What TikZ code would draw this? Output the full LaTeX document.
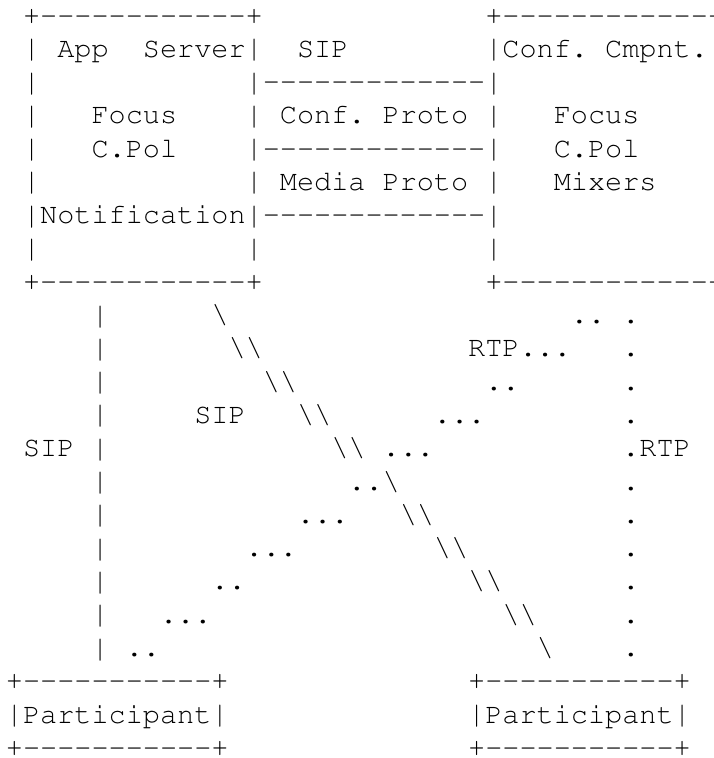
\documentclass[tikz,border=0pt]{standalone}
\usepackage[T1,TU]{fontenc}
\usepackage{fontspec}
\usepackage{graphicx}
\newcommand{\asciifont}{\fontencoding{T1}\fontfamily{pcr}\fontseries{m}\fontshape{n}}
\newcommand{\dsh}[1]{\count255=#1\relax\loop\hbox{-}\advance\count255 -1\relax\ifnum\count255>0 \repeat}
\newcommand{\bs}{\hbox{\textbackslash}}
\newcommand{\vb}{\hbox{\raisebox{-6.1pt}{\resizebox*{0.6em}{22.5pt}{\raisebox{\depth}{|}}}}}
\tikzset{asc/.style={inner sep=0pt, outer sep=0pt, anchor=base west,
  font=\asciifont\fontsize{21.4pt}{25pt}\selectfont\frenchspacing, text=black},
  flat/.style={text depth=0pt}}
\newcommand{\seg}[5][]{\node[asc,#1] (#2) at ({5.99+17.12*#3},{24+33.29*#4}) {#5};}
\begin{document}
\begin{tikzpicture}[x=0.75pt,y=-0.75pt]
\fill[white] (0,0) rectangle (714,758);
\useasboundingbox (0,0) rectangle (714,758);
% row 0
\seg{aTop}{1}{0}{+\dsh{12}+}
\seg{cTop}{28}{0}{+\dsh{13}}
% row 1
\seg{aL1}{1}{1}{\vb}
\seg{aApp}{3}{1}{App}
\seg{aSrv}{8}{1}{Server\vb}
\seg{sipTop}{17}{1}{SIP}
\seg{cName}{28}{1}{\vb Conf. Cmpnt.}
% row 2
\seg{aL2}{1}{2}{\vb}
\seg{pD1}{14}{2}{\vb\dsh{13}\vb}
% row 3
\seg{aL3}{1}{3}{\vb}
\seg{aFocus}{5}{3}{Focus}
\seg{aR3}{14}{3}{\vb}
\seg{pConf}{16}{3}{Conf. Proto}
\seg{cL3}{28}{3}{\vb}
\seg{cFocus}{32}{3}{Focus}
% row 4
\seg{aL4}{1}{4}{\vb}
\seg{aCPol}{5}{4}{C.Pol}
\seg{pD2}{14}{4}{\vb\dsh{13}\vb}
\seg{cCPol}{32}{4}{C.Pol}
% row 5
\seg{aL5}{1}{5}{\vb}
\seg{aR5}{14}{5}{\vb}
\seg{pMedia}{16}{5}{Media Proto}
\seg{cL5}{28}{5}{\vb}
\seg{cMix}{32}{5}{Mixers}
% row 6
\seg{aNotif}{1}{6}{\vb Notification\vb\dsh{13}\vb}
% row 7
\seg{aL7}{1}{7}{\vb}
\seg{aR7}{14}{7}{\vb}
\seg{cL7}{28}{7}{\vb}
% row 8
\seg{aBot}{1}{8}{+\dsh{12}+}
\seg{cBot}{28}{8}{+\dsh{13}}
% rows 9-19: left SIP line
\foreach \r in {9,...,19} {\node[asc] (v\r) at ({5.99+17.12*5},{24+33.29*\r}) {\vb};}
% right RTP dotted line
\foreach \r in {9,...,12,14,15,16,17,18,19} {\node[asc] (d\r) at ({5.99+17.12*36},{24+33.29*\r}) {.};}
\seg{rtpR}{36}{13}{.RTP}
\seg{sipL}{1}{13}{SIP}
\seg{sipM}{11}{12}{SIP}
% diagonal SIP
\seg{b9}{12}{9}{\bs}
\seg{b10}{13}{10}{\bs\bs}
\seg{b11}{15}{11}{\bs\bs}
\seg{b12}{17}{12}{\bs\bs}
\seg{b13}{19}{13}{\bs\bs}
\seg{b14}{20}{14}{..\bs}
\seg{b15}{23}{15}{\bs\bs}
\seg{b16}{25}{16}{\bs\bs}
\seg{b17}{27}{17}{\bs\bs}
\seg{b18}{29}{18}{\bs\bs}
\seg{b19}{31}{19}{\bs}
% diagonal RTP
\seg{t9}{33}{9}{..}
\seg{t10}{27}{10}{RTP...}
\seg{t11}{28}{11}{..}
\seg{t12}{25}{12}{...}
\seg{t13}{22}{13}{...}
\seg{t15}{17}{15}{...}
\seg{t16}{14}{16}{...}
\seg{t17}{12}{17}{..}
\seg{t18}{9}{18}{...}
\seg{t19}{7}{19}{..}
% participants
\seg{p1T}{0}{20}{+\dsh{11}+}
\seg{p1}{0}{21}{\vb Participant\vb}
\seg[flat]{p1B}{0}{22}{+\dsh{11}+}
\seg{p2T}{27}{20}{+\dsh{11}+}
\seg{p2}{27}{21}{\vb Participant\vb}
\seg[flat]{p2B}{27}{22}{+\dsh{11}+}
\end{tikzpicture}
\end{document}
